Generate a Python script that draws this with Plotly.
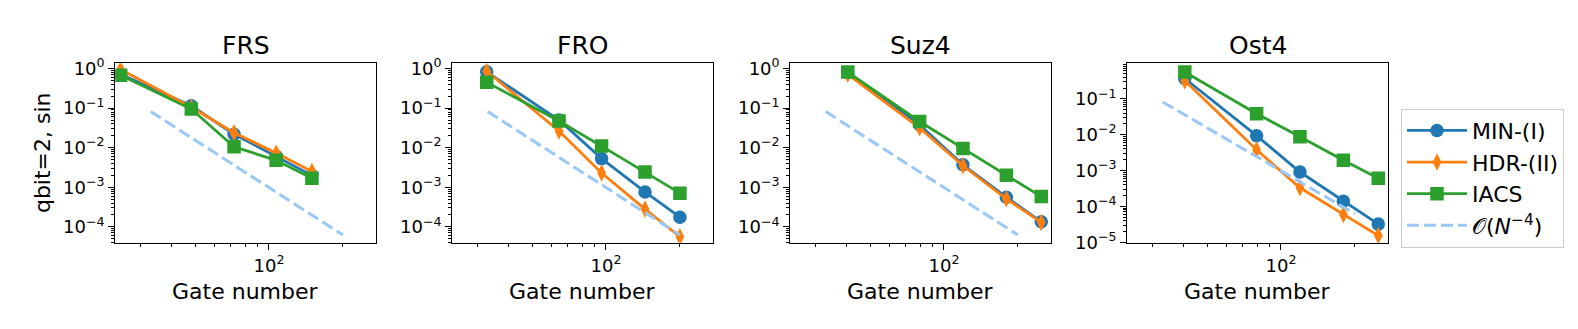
import plotly.graph_objects as go

# ---------------- data ----------------
titles = ["FRS", "FRO", "Suz4", "Ost4"]
series_names = ["MIN-(I)", "HDR-(II)", "IACS"]

frs_gates = [24.9, 48.3, 72.1, 107, 149.6]
frs_min = [0.72, 0.115, 0.022, 0.0061, 0.0020]
frs_hdr = [0.95, 0.105, 0.024, 0.0073, 0.0025]
frs_iacs = [0.68, 0.095, 0.0106, 0.0048, 0.0017]

fro_gates = [32.7, 64.4, 96, 144.2, 200]
fro_min = [0.83, 0.050, 0.0053, 7.6e-4, 1.75e-4]
fro_hdr = [0.86, 0.0264, 0.0023, 2.8e-4, 5.6e-5]
fro_iacs = [0.45, 0.0475, 0.011, 0.00243, 7.1e-4]

suz_gates = [40.6, 79.6, 119.5, 179.5, 249]
suz_min = [0.79, 0.038, 0.0037, 5.6e-4, 1.34e-4]
suz_hdr = [0.72, 0.0318, 0.0035, 5.1e-4, 1.29e-4]
suz_iacs = [0.82, 0.046, 0.0096, 0.0020, 5.8e-4]

ost_gates = [40.6, 79.6, 119.5, 179.5, 249]
ost_min = [0.37, 0.0094, 9.1e-4, 1.39e-4, 3.2e-5]
ost_hdr = [0.32, 0.0038, 3.3e-4, 5.9e-5, 1.53e-5]
ost_iacs = [0.56, 0.0386, 0.0088, 0.00193, 6.1e-4]

ref_name = "𝒪(<i>N</i><sup>−4</sup>)"
ref_gates = [33, 200]
ref_err = [0.082, 6.2e-5]

x_tickvals = [100]
x_ticktext = ["10<sup>2</sup>"]
x_minor = [20, 30, 40, 50, 60, 70, 80, 90, 200, 300]
y_tickvals = [1e-5, 1e-4, 1e-3, 1e-2, 1e-1, 1]
y_ticktext = ["10<sup>−5</sup>", "10<sup>−4</sup>", "10<sup>−3</sup>",
              "10<sup>−2</sup>", "10<sup>−1</sup>", "10<sup>0</sup>"]
y_minor = [m * 10.0 ** k for k in range(-6, 1) for m in range(2, 10)]

panels = [
    (frs_gates, [frs_min, frs_hdr, frs_iacs]),
    (fro_gates, [fro_min, fro_hdr, fro_iacs]),
    (suz_gates, [suz_min, suz_hdr, suz_iacs]),
    (ost_gates, [ost_min, ost_hdr, ost_iacs]),
]

# ---------------- style ----------------
W, H = 1578, 329
colors = ["#1f77b4", "#ff7f0e", "#2ca02c"]
symbols = ["circle", "diamond-tall", "square"]
msizes = [13.5, 12.5, 13.5]
ref_color = "#99c8f8"
FONT = "DejaVu Sans"

left_px = [107.3, 444.3, 782.3, 1119.3]
panel_w = 261
top_px, bot_px = 50, 240
x_range = [1.3745, 2.437]
y_ranges = [[-4.406, 0.1355]] * 3 + [[-5.018, -0.0066]]

fig = go.Figure()
for i, (gates, ys) in enumerate(panels):
    xa = "x" if i == 0 else f"x{i+1}"
    ya = "y" if i == 0 else f"y{i+1}"
    for j, yv in enumerate(ys):
        fig.add_trace(go.Scatter(
            x=gates, y=yv, xaxis=xa, yaxis=ya, mode="lines+markers",
            name=series_names[j], legendgroup=series_names[j], showlegend=(i == 3),
            line=dict(color=colors[j], width=2.8),
            marker=dict(symbol=symbols[j], size=msizes[j], color=colors[j], line=dict(width=0)),
        ))
    fig.add_trace(go.Scatter(
        x=ref_gates, y=ref_err, xaxis=xa, yaxis=ya, mode="lines",
        name=ref_name, legendgroup="ref", showlegend=(i == 3),
        line=dict(color=ref_color, width=3, dash="12px,5px"),
    ))

    dom_x = [left_px[i] / W, (left_px[i] + panel_w) / W]
    dom_y = [1 - bot_px / H, 1 - top_px / H]
    axis_common = dict(showline=True, mirror=True, linecolor="black", linewidth=1.2,
                       showgrid=False, zeroline=False, ticks="outside", ticklen=6,
                       tickwidth=1.2, tickcolor="black",
                       tickfont=dict(family=FONT, size=18, color="black"))
    fig.layout[("xaxis" if i == 0 else f"xaxis{i+1}")] = dict(
        type="log", domain=dom_x, range=x_range, anchor=ya,
        tickmode="array", tickvals=x_tickvals, ticktext=x_ticktext,
        minor=dict(tickmode="array", tickvals=x_minor, ticks="outside", ticklen=3.5,
                   tickwidth=1, tickcolor="black"),
        **axis_common)
    fig.layout[("yaxis" if i == 0 else f"yaxis{i+1}")] = dict(
        type="log", domain=dom_y, range=y_ranges[i], anchor=xa,
        tickmode="array", tickvals=y_tickvals, ticktext=y_ticktext,
        minor=dict(tickmode="array", tickvals=y_minor, ticks="outside", ticklen=3.5,
                   tickwidth=1, tickcolor="black"),
        **axis_common)

    cx = (left_px[i] + panel_w / 2) / W
    fig.add_annotation(text=titles[i], x=cx, y=1 - 31 / H, xref="paper", yref="paper",
                       showarrow=False, xanchor="center", yanchor="middle",
                       font=dict(family=FONT, size=25, color="black"))
    fig.add_annotation(text="Gate number", x=cx, y=1 - 291 / H, xref="paper", yref="paper",
                       showarrow=False, xanchor="center", yanchor="middle",
                       font=dict(family=FONT, size=22, color="black"))

fig.add_annotation(text="qbit=2, sin", x=34 / W, y=1 - 145 / H, xref="paper", yref="paper",
                   showarrow=False, textangle=-90, xanchor="center", yanchor="middle",
                   font=dict(family=FONT, size=22, color="black"))

fig.update_layout(
    width=W, height=H,
    margin=dict(l=0, r=0, t=0, b=0),
    paper_bgcolor="white", plot_bgcolor="white",
    font=dict(family=FONT, color="black"),
    legend=dict(x=1393 / W, y=1 - 98 / H, xanchor="left", yanchor="top",
                bordercolor="#cccccc", borderwidth=1, bgcolor="white",
                font=dict(family=FONT, size=22, color="black"),
                itemwidth=60, tracegroupgap=0),
)

fig.write_html("out.html")
